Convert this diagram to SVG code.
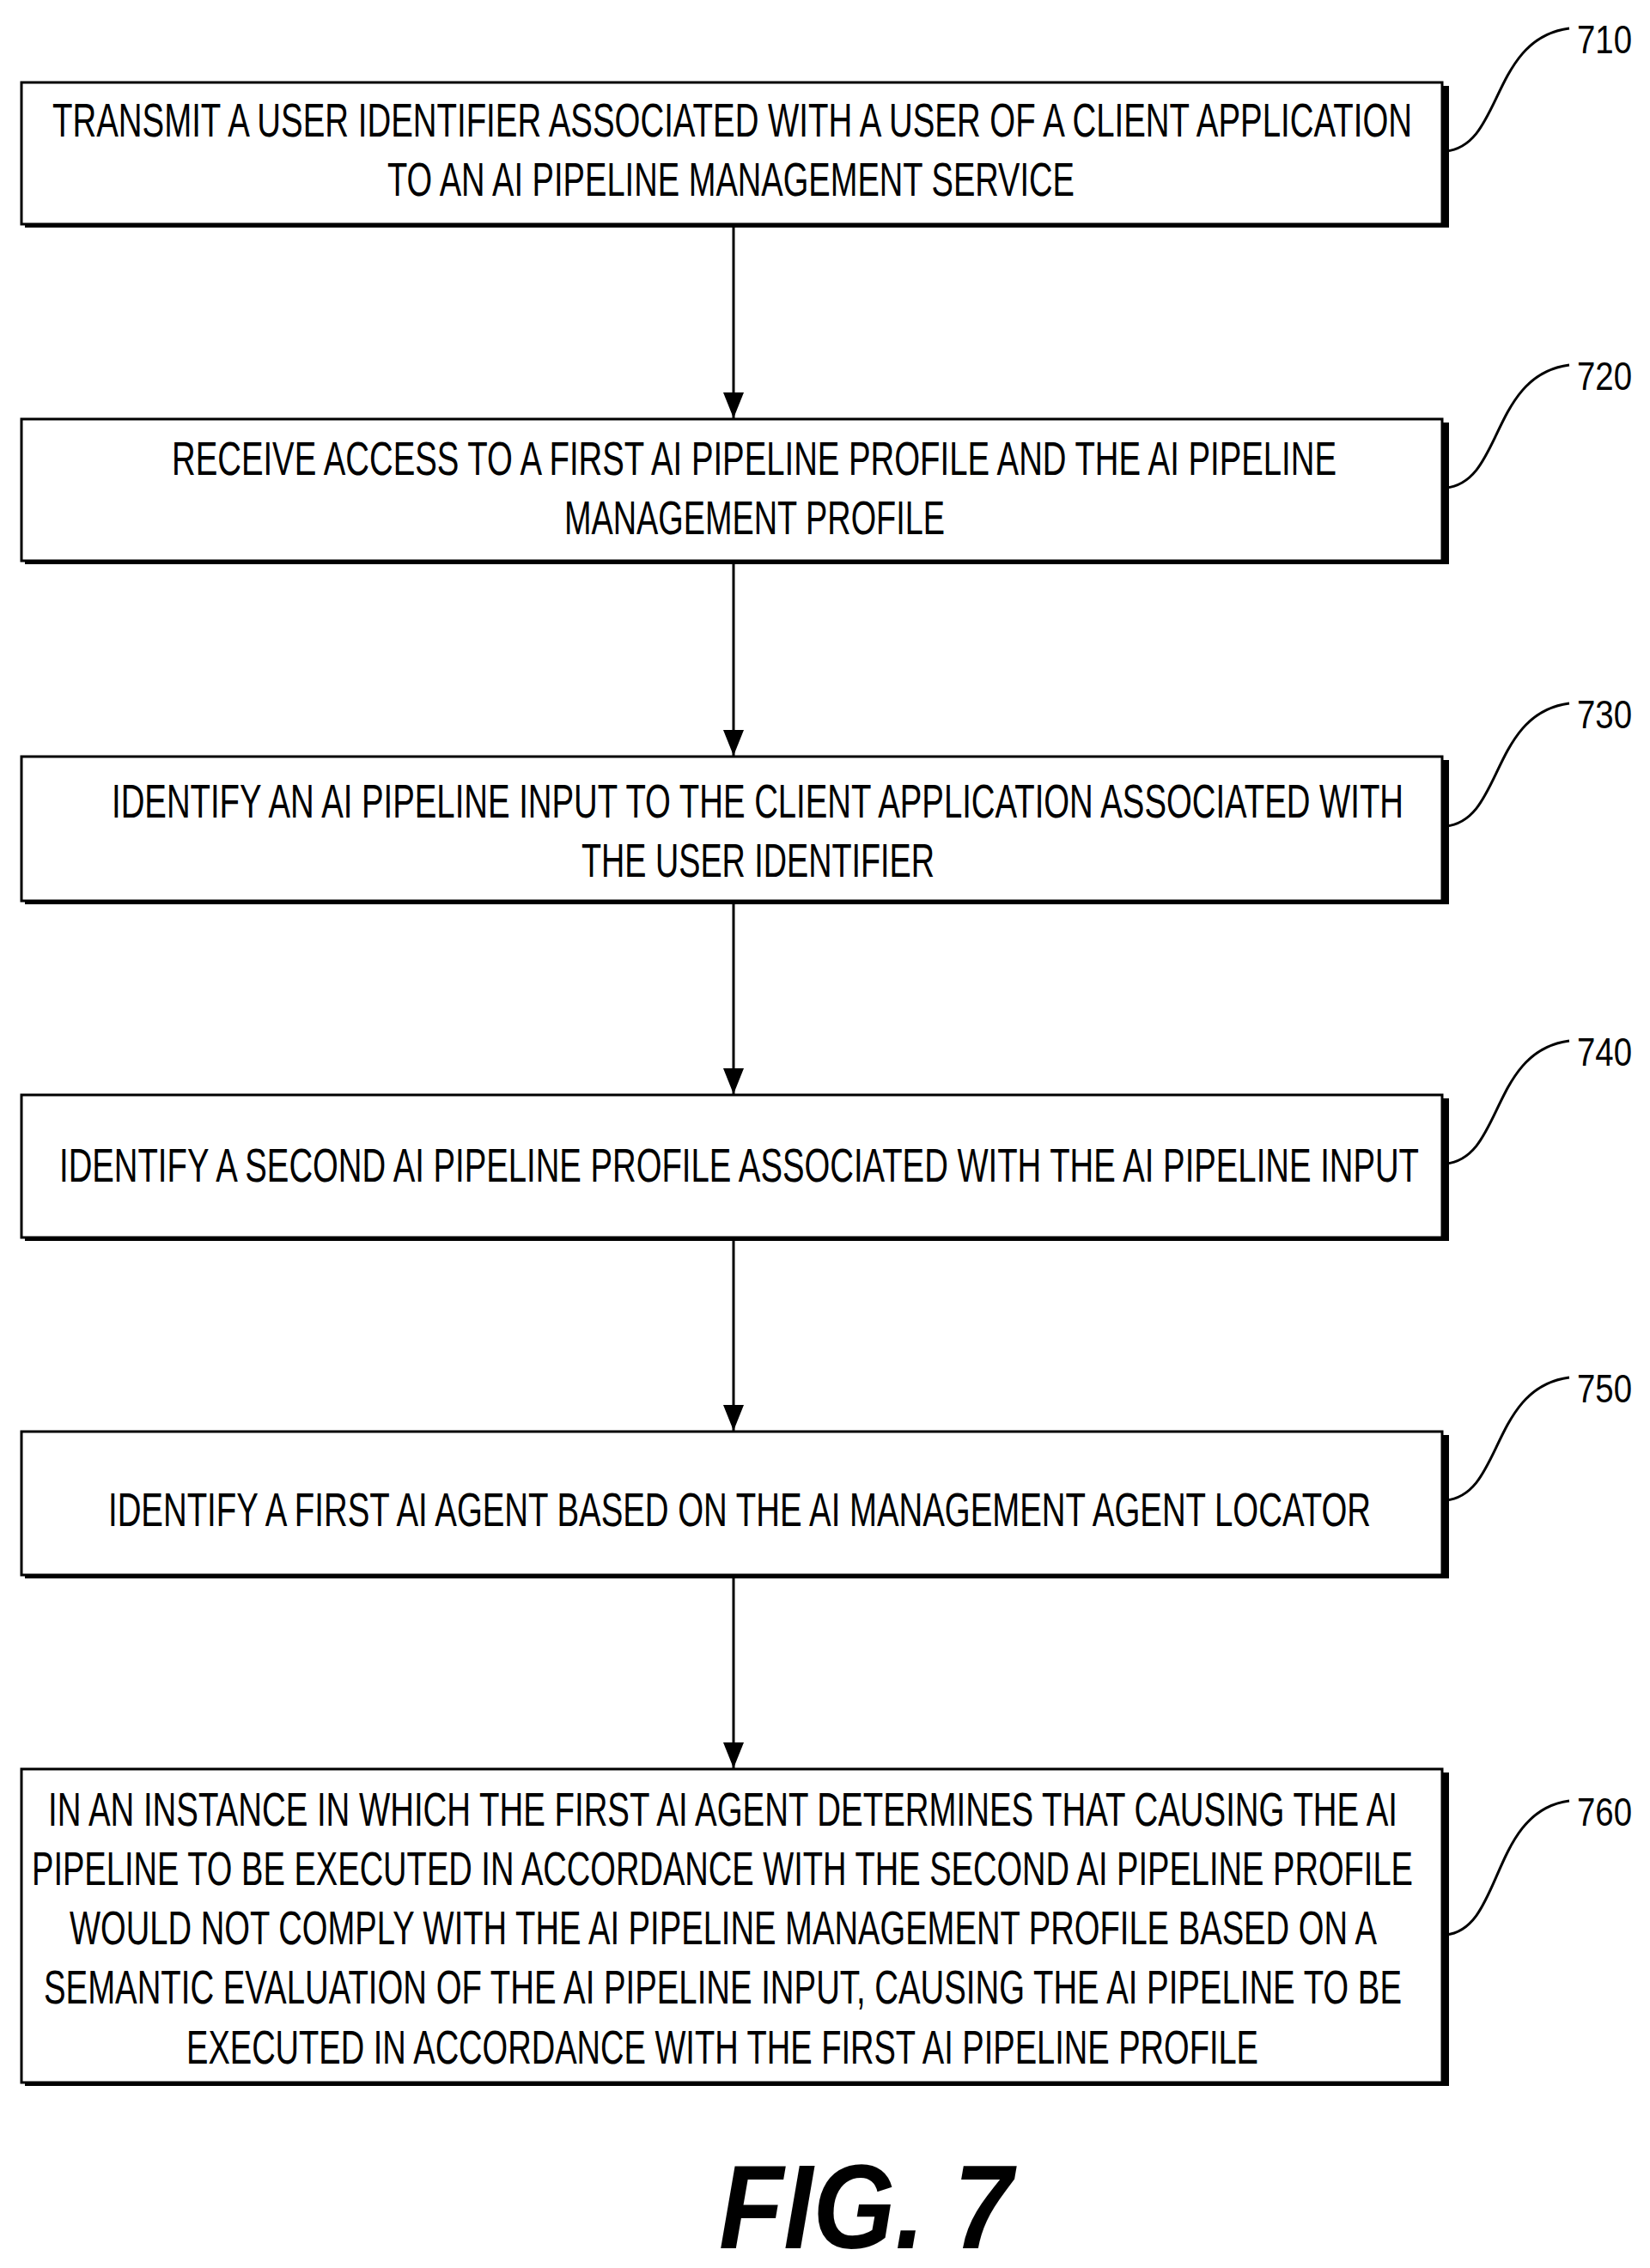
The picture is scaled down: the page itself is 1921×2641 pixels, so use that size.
<svg xmlns="http://www.w3.org/2000/svg" width="1921" height="2641" viewBox="0 0 1921 2641">
<style>
.b{fill:#fff;stroke:#000;stroke-width:3}
.s{fill:#000}
.t{font-family:"Liberation Sans",Arial,sans-serif;font-size:56px;fill:#000}
.l{font-family:"Liberation Sans",Arial,sans-serif;font-size:46px;fill:#000}
.c{fill:none;stroke:#000;stroke-width:3}
.a{stroke:#000;stroke-width:3;marker-end:url(#ah)}
</style>
<defs><marker id="ah" markerWidth="24" markerHeight="30" refX="12" refY="30" orient="auto-start-reverse" markerUnits="userSpaceOnUse" viewBox="0 0 24 30"><path d="M0,0 L24,0 L12,30 Z" transform="rotate(-90 12 15) translate(0 0)" fill="none"/></marker>
<marker id="ah2" markerWidth="24" markerHeight="30" refX="12" refY="30" markerUnits="userSpaceOnUse" viewBox="0 0 24 30" orient="0"><path d="M0,0 L24,0 L12,30 Z" fill="#000"/></marker></defs>
<rect width="1921" height="2641" fill="#fff"/>
<g id="connectors">
<line x1="854" y1="265" x2="854" y2="487" stroke="#000" stroke-width="3" marker-end="url(#ah2)"/>
<line x1="854" y1="657" x2="854" y2="880" stroke="#000" stroke-width="3" marker-end="url(#ah2)"/>
<line x1="854" y1="1053" x2="854" y2="1274" stroke="#000" stroke-width="3" marker-end="url(#ah2)"/>
<line x1="854" y1="1445" x2="854" y2="1666" stroke="#000" stroke-width="3" marker-end="url(#ah2)"/>
<line x1="854" y1="1838" x2="854" y2="2059" stroke="#000" stroke-width="3" marker-end="url(#ah2)"/>
</g>
<g id="n710">
<rect class="s" x="29" y="100" width="1658" height="165"/><rect class="b" x="25" y="96" width="1654" height="165"/>
<text class="t" x="61" y="159" textLength="1583" lengthAdjust="spacingAndGlyphs">TRANSMIT A USER IDENTIFIER ASSOCIATED WITH A USER OF A CLIENT APPLICATION</text>
<text class="t" x="451" y="228" textLength="800" lengthAdjust="spacingAndGlyphs">TO AN AI PIPELINE MANAGEMENT SERVICE</text>
<path class="c" d="M1683,176 C1750,170 1735,45 1827,33"/>
<text class="l" x="1836" y="62" textLength="64" lengthAdjust="spacingAndGlyphs">710</text>
</g>
<g id="n720">
<rect class="s" x="29" y="492" width="1658" height="165"/><rect class="b" x="25" y="488" width="1654" height="165"/>
<text class="t" x="200" y="553" textLength="1356" lengthAdjust="spacingAndGlyphs">RECEIVE ACCESS TO A FIRST AI PIPELINE PROFILE AND THE AI PIPELINE</text>
<text class="t" x="657" y="622" textLength="443" lengthAdjust="spacingAndGlyphs">MANAGEMENT PROFILE</text>
<path class="c" d="M1683,568 C1750,562 1735,437 1827,425"/>
<text class="l" x="1836" y="454" textLength="64" lengthAdjust="spacingAndGlyphs">720</text>
</g>
<g id="n730">
<rect class="s" x="29" y="885" width="1658" height="168"/><rect class="b" x="25" y="881" width="1654" height="168"/>
<text class="t" x="130" y="952" textLength="1504" lengthAdjust="spacingAndGlyphs">IDENTIFY AN AI PIPELINE INPUT TO THE CLIENT APPLICATION ASSOCIATED WITH</text>
<text class="t" x="677" y="1021" textLength="411" lengthAdjust="spacingAndGlyphs">THE USER IDENTIFIER</text>
<path class="c" d="M1683,962 C1750,956 1735,831 1827,819"/>
<text class="l" x="1836" y="848" textLength="64" lengthAdjust="spacingAndGlyphs">730</text>
</g>
<g id="n740">
<rect class="s" x="29" y="1279" width="1658" height="166"/><rect class="b" x="25" y="1275" width="1654" height="166"/>
<text class="t" x="69" y="1376" textLength="1583" lengthAdjust="spacingAndGlyphs">IDENTIFY A SECOND AI PIPELINE PROFILE ASSOCIATED WITH THE AI PIPELINE INPUT</text>
<path class="c" d="M1683,1355 C1750,1349 1735,1224 1827,1212"/>
<text class="l" x="1836" y="1241" textLength="64" lengthAdjust="spacingAndGlyphs">740</text>
</g>
<g id="n750">
<rect class="s" x="29" y="1671" width="1658" height="167"/><rect class="b" x="25" y="1667" width="1654" height="167"/>
<text class="t" x="126" y="1777" textLength="1470" lengthAdjust="spacingAndGlyphs">IDENTIFY A FIRST AI AGENT BASED ON THE AI MANAGEMENT AGENT LOCATOR</text>
<path class="c" d="M1683,1747 C1750,1741 1735,1616 1827,1604"/>
<text class="l" x="1836" y="1633" textLength="64" lengthAdjust="spacingAndGlyphs">750</text>
</g>
<g id="n760">
<rect class="s" x="29" y="2064" width="1658" height="365"/><rect class="b" x="25" y="2060" width="1654" height="365"/>
<text class="t" x="56" y="2126" textLength="1571" lengthAdjust="spacingAndGlyphs">IN AN INSTANCE IN WHICH THE FIRST AI AGENT DETERMINES THAT CAUSING THE AI</text>
<text class="t" x="37" y="2195" textLength="1608" lengthAdjust="spacingAndGlyphs">PIPELINE TO BE EXECUTED IN ACCORDANCE WITH THE SECOND AI PIPELINE PROFILE</text>
<text class="t" x="81" y="2264" textLength="1522" lengthAdjust="spacingAndGlyphs">WOULD NOT COMPLY WITH THE AI PIPELINE MANAGEMENT PROFILE BASED ON A</text>
<text class="t" x="51" y="2333" textLength="1581" lengthAdjust="spacingAndGlyphs">SEMANTIC EVALUATION OF THE AI PIPELINE INPUT, CAUSING THE AI PIPELINE TO BE</text>
<text class="t" x="217" y="2403" textLength="1248" lengthAdjust="spacingAndGlyphs">EXECUTED IN ACCORDANCE WITH THE FIRST AI PIPELINE PROFILE</text>
<path class="c" d="M1683,2253 C1750,2247 1735,2109 1827,2097"/>
<text class="l" x="1836" y="2126" textLength="64" lengthAdjust="spacingAndGlyphs">760</text>
</g>
<text x="837" y="2618" font-family="Liberation Sans,Arial,sans-serif" font-size="140" font-weight="bold" font-style="italic" textLength="342" lengthAdjust="spacingAndGlyphs">FIG. 7</text>
</svg>
